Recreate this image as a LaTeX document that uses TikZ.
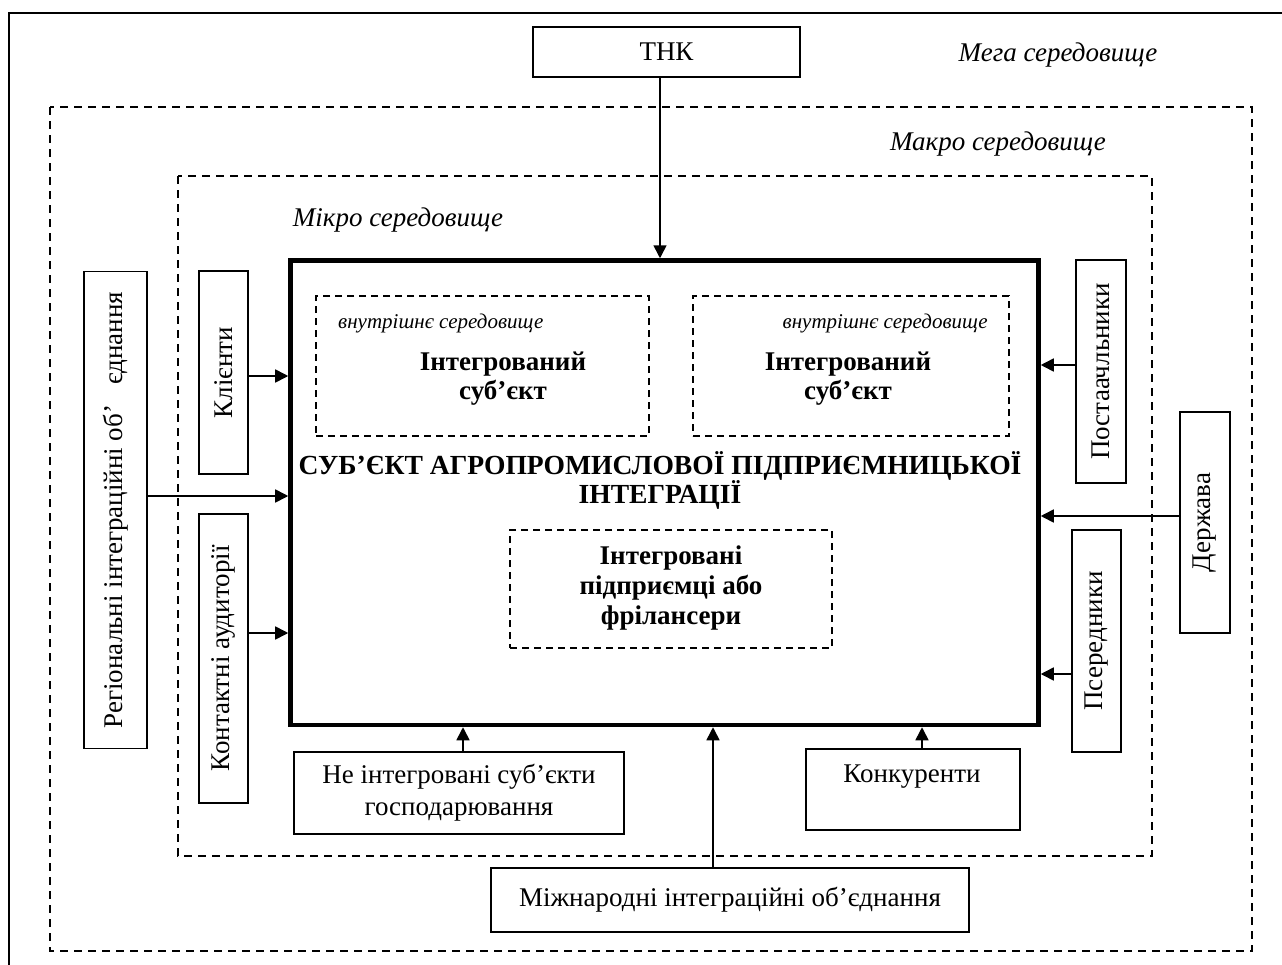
\documentclass[tikz,border=0pt]{standalone}
\usepackage{fontspec}
\usepackage{graphicx}
\setmainfont{Liberation Serif}
\usetikzlibrary{arrows.meta}
\tikzset{
  box/.style={draw, line width=1.2bp, inner sep=0pt, align=center, font=\fontsize{27bp}{32bp}\selectfont},
  envdash/.style={line width=1.5bp, dash pattern=on 8bp off 6bp},
  indash/.style={draw, line width=1.3bp, dash pattern=on 7bp off 5bp, inner sep=0pt},
  arr/.style={line width=1.6bp, -{Triangle[length=13bp,width=13bp]}},
  txt/.style={font=\fontsize{27bp}{32bp}\selectfont, align=center, inner sep=0pt},
  envlbl/.style={font=\fontsize{27bp}{30bp}\selectfont\itshape, inner sep=0pt},
  smallit/.style={font=\fontsize{21bp}{24bp}\selectfont\itshape, inner sep=0pt},
  boldtxt/.style={font=\fontsize{27bp}{29bp}\selectfont\bfseries, align=center, inner sep=0pt},
  titletxt/.style={font=\fontsize{27.6bp}{29bp}\selectfont\bfseries, align=center, inner sep=0pt}
}
\begin{document}
\begin{tikzpicture}[x=1bp,y=-1bp]
\useasboundingbox (0,0) rectangle (1282,965);
\clip (0,0) rectangle (1282,965);
\fill[white] (0,0) rectangle (1282,965);
% outer (mega) frame
\draw[line width=2bp] (9,13) rectangle (1300,990);
% macro and micro environments
\draw[envdash] (50,107) rectangle (1252,951);
\draw[envdash] (178,176) rectangle (1152,856);
% labels of environments
\node[envlbl] (lmega) at (1058,55) {Мега середовище};
\node[envlbl] (lmacro) at (998,144) {Макро середовище};
\node[envlbl] (lmicro) at (398,220) {Мікро середовище};
% top box
\node[box, minimum width=267bp, minimum height=50bp] (thk) at (666.5,52) {ТНК};
% main box
\node[draw, line width=4.5bp, inner sep=0pt, minimum width=748bp, minimum height=464.5bp] (main) at (664.5,492.75) {};
% inner dashed boxes
\node[indash, minimum width=333bp, minimum height=140bp] (in1) at (482.5,366) {};
\node[indash, minimum width=316bp, minimum height=140bp] (in2) at (851,366) {};
\node[indash, minimum width=322bp, minimum height=118bp] (in3) at (671,589) {};
\node[smallit, anchor=west] (env1) at (338,323) {внутрішнє середовище};
\node[smallit, anchor=east] (env2) at (988,323) {внутрішнє середовище};
\node[boldtxt] (is1) at (503,379) {Інтегрований\\суб’єкт};
\node[boldtxt] (is2) at (848,379) {Інтегрований\\суб’єкт};
\node[titletxt] (title) at (660,480.5) {СУБ’ЄКТ АГРОПРОМИСЛОВОЇ ПІДПРИЄМНИЦЬКОЇ\\ІНТЕГРАЦІЇ};
\node[font=\fontsize{27bp}{30bp}\selectfont\bfseries, align=center, inner sep=0pt] (ip) at (671,588) {Інтегровані\\підприємці або\\фрілансери};
% left boxes
\node[box, minimum width=63bp, minimum height=477bp] (reg) at (115.5,510) {\rotatebox{90}{Регіональні інтеграційні об’\hspace{20bp}єднання}};
\node[box, minimum width=49bp, minimum height=203bp] (kl) at (223.5,372.5) {\rotatebox{90}{Клієнти}};
\node[box, minimum width=49bp, minimum height=289bp] (kont) at (223.5,658.5) {\rotatebox{90}{Контактні аудиторії}};
% right boxes
\node[box, minimum width=50bp, minimum height=223bp] (post) at (1101,371.5) {\rotatebox{90}{Постаачльники}};
\node[box, minimum width=50bp, minimum height=221bp] (derzh) at (1205,522.5) {\rotatebox{90}{Держава}};
\node[box, minimum width=49bp, minimum height=222bp] (pos) at (1096.5,641) {\rotatebox{90}{Псередники}};
% bottom boxes
\node[box, minimum width=330bp, minimum height=82bp] (ni) at (459,793) {Не інтегровані суб’єкти\\господарювання};
\node[box, minimum width=214bp, minimum height=81bp] (kon) at (913,789.5) {};
\node[txt] (kontxt) at (912,777) {Конкуренти};
\node[box, minimum width=478bp, minimum height=64bp] (mizh) at (730,900) {Міжнародні інтеграційні об’єднання};
% connector guides
\coordinate (xT) at (660,0);
\coordinate (yKl) at (0,376);
\coordinate (yReg) at (0,496);
\coordinate (yKont) at (0,633);
\coordinate (yPost) at (0,365);
\coordinate (yDer) at (0,516);
\coordinate (yPos) at (0,674);
\coordinate (xNi) at (463,0);
\coordinate (xMz) at (713,0);
\coordinate (xKon) at (922,0);
% connectors
\draw[arr] (thk.south -| xT) -- (main.north -| xT);
\draw[arr] (kl.east |- yKl) -- (main.west |- yKl);
\draw[arr] (reg.east |- yReg) -- (main.west |- yReg);
\draw[arr] (kont.east |- yKont) -- (main.west |- yKont);
\draw[arr] (post.west |- yPost) -- (main.east |- yPost);
\draw[arr] (derzh.west |- yDer) -- (main.east |- yDer);
\draw[arr] (pos.west |- yPos) -- (main.east |- yPos);
\draw[arr] (ni.north -| xNi) -- (main.south -| xNi);
\draw[arr] (mizh.north -| xMz) -- (main.south -| xMz);
\draw[arr] (kon.north -| xKon) -- (main.south -| xKon);
\end{tikzpicture}
\end{document}
